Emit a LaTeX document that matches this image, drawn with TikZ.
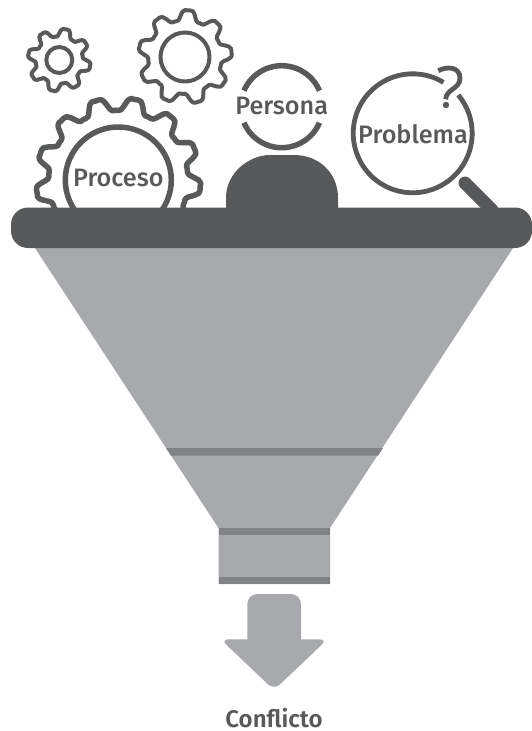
\documentclass[tikz,border=0pt]{standalone}
\usepackage{fontspec}
\setmainfont{Fira Sans Medium}
\newfontfamily\semib{Fira Sans SemiBold}
\definecolor{dk}{HTML}{58595B}
\definecolor{md}{HTML}{A7A9AC}
\definecolor{bd}{HTML}{808285}
\tikzset{
  outline/.style={draw=dk,line join=round,fill=none},
  solid dark/.style={fill=dk,draw=none},
  solid mid/.style={fill=md,draw=none},
  band/.style={fill=bd,draw=none},
  lab/.style={text=dk,inner sep=0pt,font=\fontsize{25.2}{27}\selectfont},
}
\newcommand{\gearpath}[6]{% cx cy Rmid amp teeth phase
  plot[smooth,domain=0:360,samples=#5*12+1,variable=\t]
  ({#1+(#3+#4*(sin(#5*\t+#6)+0.18*sin(3*(#5*\t+#6))))*cos(\t)},
   {#2-(#3+#4*(sin(#5*\t+#6)+0.18*sin(3*(#5*\t+#6))))*sin(\t)})
}
\begin{document}
\begin{tikzpicture}[x=1pt,y=-1pt]
\useasboundingbox (0,0) rectangle (532,731);
% small gears
\draw[outline,line width=4pt] \gearpath{59.3}{60}{27.5}{4.6}{8}{186} -- cycle;
\draw[outline,line width=4pt] (59.3,60) circle[radius=13pt];
\draw[outline,line width=4pt] \gearpath{185}{57}{41.8}{5.9}{9}{36} -- cycle;
\draw[outline,line width=4pt] (185,57) circle[radius=24.5pt];
% big gear
\begin{scope}
\clip (0,0) rectangle (532,210);
\draw[outline,line width=5.5pt] \gearpath{118.3}{180}{76}{7.5}{13}{156} -- cycle;
\draw[outline,line width=5.5pt] (118.3,180) circle[radius=53pt];
\end{scope}
\node[lab] (proceso) at (118.3,178) {Proceso};
% person
\coordinate (head) at (281.7,106.7);
\draw[outline,line width=5.5pt] ([shift={(head)}]23:41pt) arc[start angle=23,end angle=157,radius=41pt];
\draw[outline,line width=5.5pt] ([shift={(head)}]-23:41pt) arc[start angle=-23,end angle=-157,radius=41pt];
\node[lab] (persona) at (281.7,105.5) {Persona};
\path[solid dark] (226,208) -- (226,198) .. controls (226,172) and (250,155) .. (270,155) -- (294,155) .. controls (318,155) and (338,172) .. (338,198) -- (338,208) -- cycle;
% magnifier
\coordinate (lens) at (412.7,133.3);
\draw[outline,line width=4.8pt] ([shift={(lens)}]58.8:59.5pt) arc[start angle=58.8,end angle=400,radius=59.5pt];
\node[lab] (problema) at (413,134) {Problema};
\draw[dk,line width=13pt,line cap=round] (465,183) -- (492,210);
\draw[outline,line width=4.8pt] (438.3,70.7) .. controls (446,66.5) and (460,66) .. (460,78.3) .. controls (460,89) and (446,89) .. (445.7,99.3);
\fill[dk] (446,105) circle[radius=3.2pt];
% funnel
\path[solid mid] (33,245) -- (515,245) -- (330,528) -- (330,584) -- (218.5,584) -- (218.5,528) -- cycle;
\path[band] (166,448) -- (383,448) -- (378.2,455.5) -- (170.9,455.5) -- cycle;
\path[band] (218.5,528) -- (330,528) -- (330,535) -- (218.5,535) -- cycle;
\path[band] (218.5,577) -- (330,577) -- (330,584) -- (218.5,584) -- cycle;
% table
\path[solid dark,rounded corners=17pt] (11,207.5) rectangle (532,248);
% arrow
\path[solid mid,rounded corners=10pt] (247.3,650) -- (247.3,594) -- (301,594) -- (301,650) -- cycle;
\path[solid mid,rounded corners=8pt] (220.5,639.3) -- (327.5,639.3) -- (274,690) -- cycle;
\node[lab,anchor=base,font=\fontsize{24}{26}\selectfont\semib] (conflicto) at (274,727) {Conflicto};
\end{tikzpicture}
\end{document}
